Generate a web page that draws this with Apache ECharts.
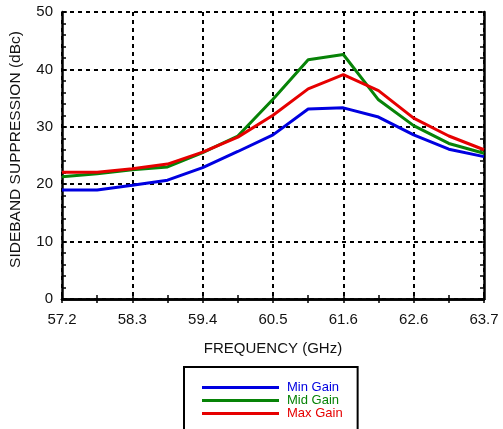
<!DOCTYPE html>
<html>
<head>
<meta charset="utf-8">
<script src="https://cdn.jsdelivr.net/npm/echarts@6/dist/echarts.min.js"></script>
<style>
  html, body { margin: 0; padding: 0; background: #fff; }
  #chart { width: 503px; height: 429px; }
</style>
</head>
<body>
<div id="chart"></div>
<script>
// Frequency sample points (GHz); every other one carries a tick label
const frequencies = ['57.2', '57.7', '58.3', '58.8', '59.4', '59.9', '60.5', '61.0', '61.6', '62.1', '62.6', '63.2', '63.7'];
const tickLabels = ['57.2', '58.3', '59.4', '60.5', '61.6', '62.6', '63.7'];

// Sideband suppression (dBc) per gain setting
const minGain = [19.0, 19.0, 19.8, 20.7, 22.9, 25.7, 28.6, 33.1, 33.3, 31.7, 28.6, 26.1, 24.8];
const midGain = [21.3, 21.8, 22.5, 23.0, 25.5, 28.4, 34.8, 41.7, 42.6, 34.7, 30.2, 27.1, 25.4];
const maxGain = [22.1, 22.1, 22.7, 23.5, 25.6, 28.2, 32.0, 36.6, 39.1, 36.3, 31.5, 28.4, 26.0];

const seriesNames = ['Min Gain', 'Mid Gain', 'Max Gain'];
const seriesColors = ['#0000e0', '#078307', '#e60000'];

const FONT = 'Liberation Sans, Arial, Helvetica, sans-serif';

const chart = echarts.init(document.getElementById('chart'), null, { renderer: 'canvas' });

const frame = { show: true, lineStyle: { color: '#000', width: 2.5 } };
const dashed = { show: true, lineStyle: { color: '#000', width: 2, type: [4, 4] } };

const xBase = {
  type: 'category',
  data: frequencies,
  boundaryGap: false,
  axisLine: frame,
  axisTick: { show: true, inside: true, interval: 0, length: 4, lineStyle: { color: '#000', width: 1.5 } }
};

const yBase = {
  type: 'value',
  min: 0,
  max: 50,
  interval: 10,
  axisLine: frame,
  axisTick: { show: true, inside: true, length: 5, lineStyle: { color: '#000', width: 1.5 } },
  minorTick: { show: true, splitNumber: 5, length: 4, lineStyle: { color: '#000', width: 1.5 } }
};

const option = {
  animation: false,
  backgroundColor: '#fff',
  textStyle: { fontFamily: FONT },
  grid: { left: 60, right: 19, top: 12, bottom: 130, containLabel: false },
  legend: {
    orient: 'vertical',
    left: 184,
    top: 367,
    height: 120,
    padding: [14, 15, 30, 18],
    itemGap: 0,
    itemWidth: 77,
    itemHeight: 3,
    icon: 'rect',
    borderColor: '#000',
    borderWidth: 2,
    textStyle: { fontFamily: FONT, fontSize: 13, padding: [0, 0, 0, 3] },
    data: seriesNames.map((n, i) => ({ name: n, textStyle: { color: seriesColors[i] } }))
  },
  xAxis: [
    Object.assign({}, xBase, {
      position: 'bottom',
      name: 'FREQUENCY (GHz)',
      nameLocation: 'middle',
      nameGap: 42,
      nameTextStyle: { fontFamily: FONT, fontSize: 15, color: '#111' },
      axisLabel: {
        show: true,
        interval: 1,
        margin: 13,
        fontFamily: FONT,
        fontSize: 15,
        color: '#111',
        formatter: (v, idx) => tickLabels[idx / 2] || v
      },
      splitLine: Object.assign({ interval: 1 }, dashed)
    }),
    Object.assign({}, xBase, {
      position: 'top',
      axisLabel: { show: false },
      splitLine: { show: false }
    })
  ],
  yAxis: [
    Object.assign({}, yBase, {
      position: 'left',
      name: 'SIDEBAND SUPPRESSION (dBc)',
      nameLocation: 'middle',
      nameGap: 38,
      nameTextStyle: { fontFamily: FONT, fontSize: 15.5, color: '#111', padding: [0, 0, 0, 12] },
      axisLabel: { show: true, margin: 9, fontFamily: FONT, fontSize: 15, color: '#111' },
      splitLine: dashed
    }),
    Object.assign({}, yBase, {
      position: 'right',
      axisLabel: { show: false },
      splitLine: { show: false }
    })
  ],
  series: [minGain, midGain, maxGain].map((values, i) => ({
    name: seriesNames[i],
    type: 'line',
    data: values,
    xAxisIndex: 0,
    yAxisIndex: 0,
    showSymbol: false,
    symbol: 'none',
    color: seriesColors[i],
    lineStyle: { color: seriesColors[i], width: 3 },
    z: 3
  }))
};

chart.setOption(option);
</script>
</body>
</html>
